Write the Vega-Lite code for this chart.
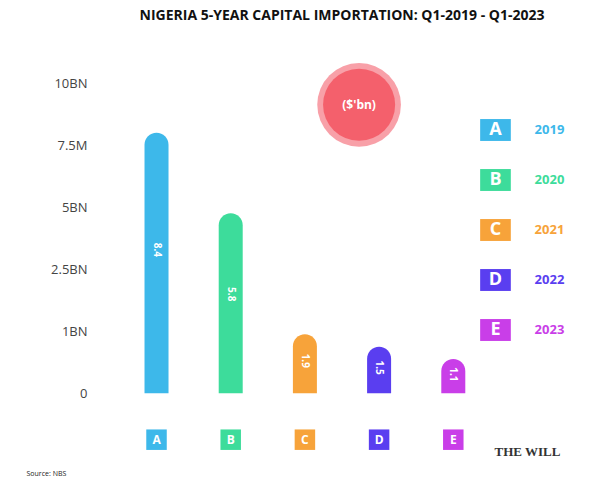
{
  "$schema": "https://vega.github.io/schema/vega-lite/v6.json",
  "width": 602,
  "height": 488,
  "autosize": {"type": "fit", "contains": "padding"},
  "padding": {"left": 40, "right": 30, "top": 14, "bottom": 8},
  "background": "white",
  "title": {"text": "NIGERIA 5-YEAR CAPITAL IMPORTATION: Q1-2019 - Q1-2023", "font": "Open Sans", "fontSize": 14, "fontWeight": "bold", "color": "#111", "offset": 40, "anchor": "middle"},
  "config": {"view": {"stroke": null}, "font": "Open Sans"},
  "data": {"values": [
    {"letter": "A", "year": "2019", "value": 8.4, "color": "#3db8ea"},
    {"letter": "B", "year": "2020", "value": 5.8, "color": "#3ddc9b"},
    {"letter": "C", "year": "2021", "value": 1.9, "color": "#f7a33a"},
    {"letter": "D", "year": "2022", "value": 1.5, "color": "#5a3ef0"},
    {"letter": "E", "year": "2023", "value": 1.1, "color": "#c93ee8"}
  ]},
  "encoding": {
    "x": {"field": "letter", "type": "nominal", "scale": {"domain": ["A", "B", "C", "D", "E", "L"], "paddingInner": 0, "paddingOuter": 0.1}, "axis": null}
  },
  "layer": [
    {
      "layer": [
        {
          "mark": {"type": "bar", "size": 24, "cornerRadiusTopLeft": 12, "cornerRadiusTopRight": 12},
          "encoding": {
            "y": {"field": "value", "type": "quantitative", "scale": {"domain": [-2.8, 10.1], "nice": false},
              "axis": {"values": [0, 2, 4, 6, 8, 10], "title": null, "grid": false, "domain": false, "ticks": false, "labelFontSize": 13, "labelColor": "#444", "labelPadding": 25,
                "labelExpr": "datum.value == 0 ? '0' : datum.value == 2 ? '1BN' : datum.value == 4 ? '2.5BN' : datum.value == 6 ? '5BN' : datum.value == 8 ? '7.5M' : '10BN'"}},
            "y2": {"datum": 0},
            "color": {"field": "color", "type": "nominal", "scale": null}
          }
        },
        {
          "transform": [{"calculate": "datum.value * 0.55", "as": "mid"}],
          "mark": {"type": "text", "angle": 90, "color": "white", "fontWeight": "bold", "fontSize": 10},
          "encoding": {
            "y": {"field": "mid", "type": "quantitative"},
            "text": {"field": "value", "type": "quantitative", "format": ".1f"}
          }
        },
        {
          "mark": {"type": "point", "shape": "square", "filled": true, "size": 420, "opacity": 1},
          "encoding": {"y": {"datum": -1.5}, "color": {"field": "color", "type": "nominal", "scale": null}}
        },
        {
          "mark": {"type": "text", "color": "white", "fontSize": 12, "fontWeight": "bold"},
          "encoding": {"y": {"datum": -1.5}, "text": {"field": "letter"}}
        },
        {
          "data": {"values": [{"label": "($'bn)"}]},
          "layer": [
            {"mark": {"type": "point", "filled": true, "size": 7000, "color": "#f8a0a8", "opacity": 1, "xOffset": -20},
             "encoding": {"x": {"datum": "D"}, "y": {"datum": 9.3}}},
            {"mark": {"type": "point", "filled": true, "size": 5200, "color": "#f4606c", "opacity": 1, "xOffset": -20},
             "encoding": {"x": {"datum": "D"}, "y": {"datum": 9.3}}},
            {"mark": {"type": "text", "color": "white", "fontSize": 12, "fontWeight": "bold", "dx": -20},
             "encoding": {"x": {"datum": "D"}, "y": {"datum": 9.3}, "text": {"field": "label"}}}
          ]
        },
        {
          "data": {"values": [{"label": "Source: NBS"}]},
          "mark": {"type": "text", "fontSize": 7, "align": "left", "dx": -130, "color": "#222"},
          "encoding": {"x": {"datum": "A"}, "y": {"datum": -2.6}, "text": {"field": "label"}}
        },
        {
          "data": {"values": [{"label": "THE WILL"}]},
          "mark": {"type": "text", "fontSize": 13, "font": "Liberation Serif", "fontWeight": "bold", "color": "#333", "dx": 0},
          "encoding": {"x": {"datum": "L"}, "y": {"datum": -1.9}, "text": {"field": "label"}}
        }
      ]
    },
    {
      "encoding": {"y": {"field": "year", "type": "ordinal", "scale": {"type": "point", "domain": ["2019", "2020", "2021", "2022", "2023", "x1", "x2"], "padding": 1.6}, "axis": null}},
      "layer": [
        {
          "mark": {"type": "point", "shape": "M-1.4,-1 L1.4,-1 L1.4,1 L-1.4,1 Z", "filled": true, "size": 480, "opacity": 1, "xOffset": -32},
          "encoding": {"x": {"datum": "L"}, "color": {"field": "color", "type": "nominal", "scale": null}}
        },
        {
          "mark": {"type": "text", "color": "white", "fontSize": 18, "fontWeight": "bold", "dx": -32},
          "encoding": {"x": {"datum": "L"}, "text": {"field": "letter"}}
        },
        {
          "mark": {"type": "text", "fontSize": 13, "fontWeight": "bold", "dx": 22},
          "encoding": {"x": {"datum": "L"}, "text": {"field": "year"}, "color": {"field": "color", "type": "nominal", "scale": null}}
        }
      ]
    }
  ],
  "resolve": {"scale": {"y": "independent"}}
}
